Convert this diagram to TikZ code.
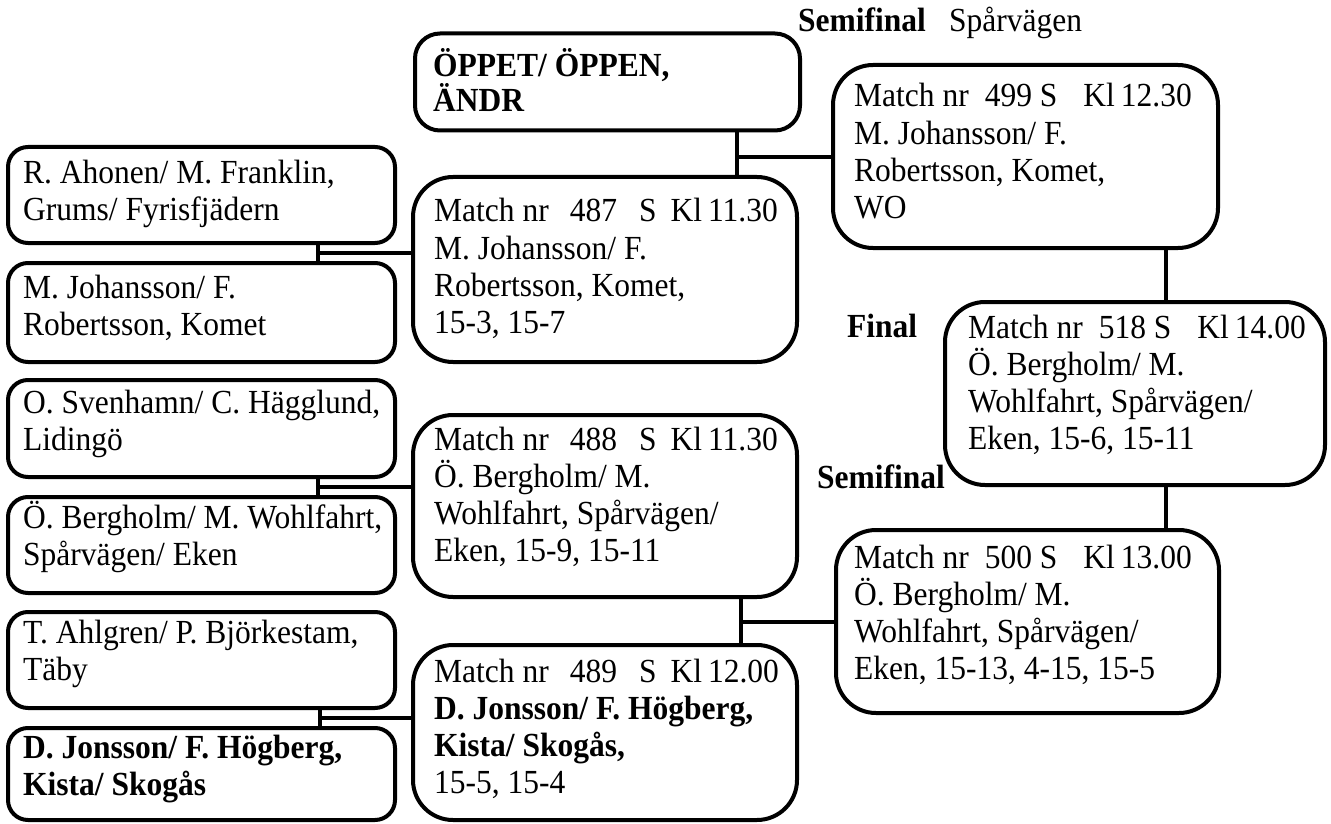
\documentclass[tikz,border=0pt]{standalone}
\usepackage{fontspec}
\usepackage{graphicx}
\setmainfont{Liberation Serif}
\usetikzlibrary{calc}
\newcommand\hdrLeft[2]{Match nr\hspace{21pt}#1\hspace{22pt}S\hspace{14pt}Kl\hspace{6pt}#2}
\newcommand\hdrRight[2]{Match nr\hspace{16pt}#1 S\hspace{26pt}Kl\hspace{6pt}#2}
\newcommand\Tall[1]{\scalebox{1}[1.07]{#1}}
\begin{document}
\begin{tikzpicture}[x=1pt,y=-1pt,
  box/.style={draw, line width=4pt, rounded corners=#1, inner sep=0pt},
  leftbox/.style={box=20pt, minimum width=387pt},
  midbox/.style={box=40pt, minimum width=384pt},
  conn/.style={line width=4pt},
  txt/.style={inner sep=0pt, anchor=base west, font=\fontsize{31.5}{34.6}\selectfont},
  lbl/.style={inner sep=0pt, anchor=base west, font=\fontsize{31.5}{34.6}\selectfont\bfseries}]
\fill[white] (0,0) rectangle (1331,824);
\useasboundingbox (0,0) rectangle (1331,824);

% boxes
\node[box=25pt, minimum width=385pt, minimum height=97pt] (open) at (607.5,82) {};
\node[leftbox, minimum height=96pt] (A) at (201.5,195) {};
\node[leftbox, minimum height=99pt] (B) at (201.5,312.5) {};
\node[leftbox, minimum height=97pt] (C) at (201.5,428.5) {};
\node[leftbox, minimum height=96pt] (D) at (201.5,545) {};
\node[leftbox, minimum height=96pt] (E) at (201.5,660) {};
\node[leftbox, minimum height=92pt] (F) at (201.5,774) {};
\node[midbox, minimum height=185pt] (m487) at (605,269.5) {};
\node[midbox, minimum height=182pt] (m488) at (605,506) {};
\node[midbox, minimum height=175pt] (m489) at (605,732.5) {};
\node[box=40pt, minimum width=385pt, minimum height=183pt] (m499) at (1025.5,156.5) {};
\node[box=40pt, minimum width=380pt, minimum height=183pt] (m518) at (1135,393.5) {};
\node[box=40pt, minimum width=383pt, minimum height=183pt] (m500) at (1027.5,621.5) {};

% connectors
\coordinate (jAB) at ($(A.south)!0.5!(B.north)+(116.5,0)$);
\draw[conn] (A.south -| jAB) -- (B.north -| jAB);
\draw[conn] (jAB) -- (jAB -| m487.west);
\coordinate (jCD) at ($(C.south)!0.5!(D.north)+(116.5,0)$);
\draw[conn] (C.south -| jCD) -- (D.north -| jCD);
\draw[conn] (jCD) -- (jCD -| m488.west);
\coordinate (jEF) at ($(E.south)!0.5!(F.north)+(118.5,0)$);
\draw[conn] (E.south -| jEF) -- (F.north -| jEF);
\draw[conn] (jEF) -- (jEF -| m489.west);
\coordinate (jO) at ($(open.south)+(129.5,25)$);
\draw[conn] (open.south -| jO) -- (m487.north -| jO);
\draw[conn] (jO) -- (jO -| m499.west);
\coordinate (jM) at ($(m488.south)+(136,23)$);
\draw[conn] (m488.south -| jM) -- (m489.north -| jM);
\draw[conn] (jM) -- (jM -| m500.west);
\coordinate (jR) at ($(m499.south)+(140.5,0)$);
\draw[conn] (jR) -- (jR |- m518.north);
\draw[conn] (m518.south -| jR) -- (m500.north -| jR);

% texts
\node[txt] (tOpen) at (433,77) {\Tall{\vtop{\bfseries\baselineskip=29pt\hbox{ÖPPET/ ÖPPEN,}\hbox{ÄNDR}}}};
\node[txt] (tA) at (23,183) {\Tall{\vtop{\hbox{R. Ahonen/ M. Franklin,}\hbox{Grums/ Fyrisfjädern}}}};
\node[txt] (tB) at (23,298) {\Tall{\vtop{\hbox{M. Johansson/ F.}\hbox{Robertsson, Komet}}}};
\node[txt] (tC) at (23,413) {\Tall{\vtop{\hbox{O. Svenhamn/ C. Hägglund,}\hbox{Lidingö}}}};
\node[txt] (tD) at (23,528) {\Tall{\vtop{\hbox{Ö. Bergholm/ M. Wohlfahrt,}\hbox{Spårvägen/ Eken}}}};
\node[txt] (tE) at (23,643) {\Tall{\vtop{\hbox{T. Ahlgren/ P. Björkestam,}\hbox{Täby}}}};
\node[txt] (tF) at (23,758) {\Tall{\vtop{\bfseries\hbox{D. Jonsson/ F. Högberg,}\hbox{Kista/ Skogås}}}};
\node[txt] (t487) at (434,222) {\Tall{\vtop{\hbox{\hdrLeft{487}{11.30}}\hbox{M. Johansson/ F.}\hbox{Robertsson, Komet,}\hbox{15-3, 15-7}}}};
\node[txt] (t488) at (434,450) {\Tall{\vtop{\hbox{\hdrLeft{488}{11.30}}\hbox{Ö. Bergholm/ M.}\hbox{Wohlfahrt, Spårvägen/}\hbox{Eken, 15-9, 15-11}}}};
\node[txt] (t489) at (434,682) {\Tall{\vtop{\hbox{\hdrLeft{489}{12.00}}\hbox{\bfseries D. Jonsson/ F. Högberg,}\hbox{\bfseries Kista/ Skogås,}\hbox{15-5, 15-4}}}};
\node[txt] (t499) at (854,107) {\Tall{\vtop{\hbox{\hdrRight{499}{12.30}}\hbox{M. Johansson/ F.}\hbox{Robertsson, Komet,}\hbox{WO}}}};
\node[txt] (t518) at (968,338) {\Tall{\vtop{\hbox{\hdrRight{518}{14.00}}\hbox{Ö. Bergholm/ M.}\hbox{Wohlfahrt, Spårvägen/}\hbox{Eken, 15-6, 15-11}}}};
\node[txt] (t500) at (854,568) {\Tall{\vtop{\hbox{\hdrRight{500}{13.00}}\hbox{Ö. Bergholm/ M.}\hbox{Wohlfahrt, Spårvägen/}\hbox{Eken, 15-13, 4-15, 15-5}}}};

% round labels
\node[lbl] (semi1) at (798,32) {\Tall{Semifinal}};
\node[txt] (club) at (949,32) {\Tall{Spårvägen}};
\node[lbl] (final) at (847,337) {\Tall{Final}};
\node[lbl] (semi2) at (817,488) {\Tall{Semifinal}};
\end{tikzpicture}
\end{document}
